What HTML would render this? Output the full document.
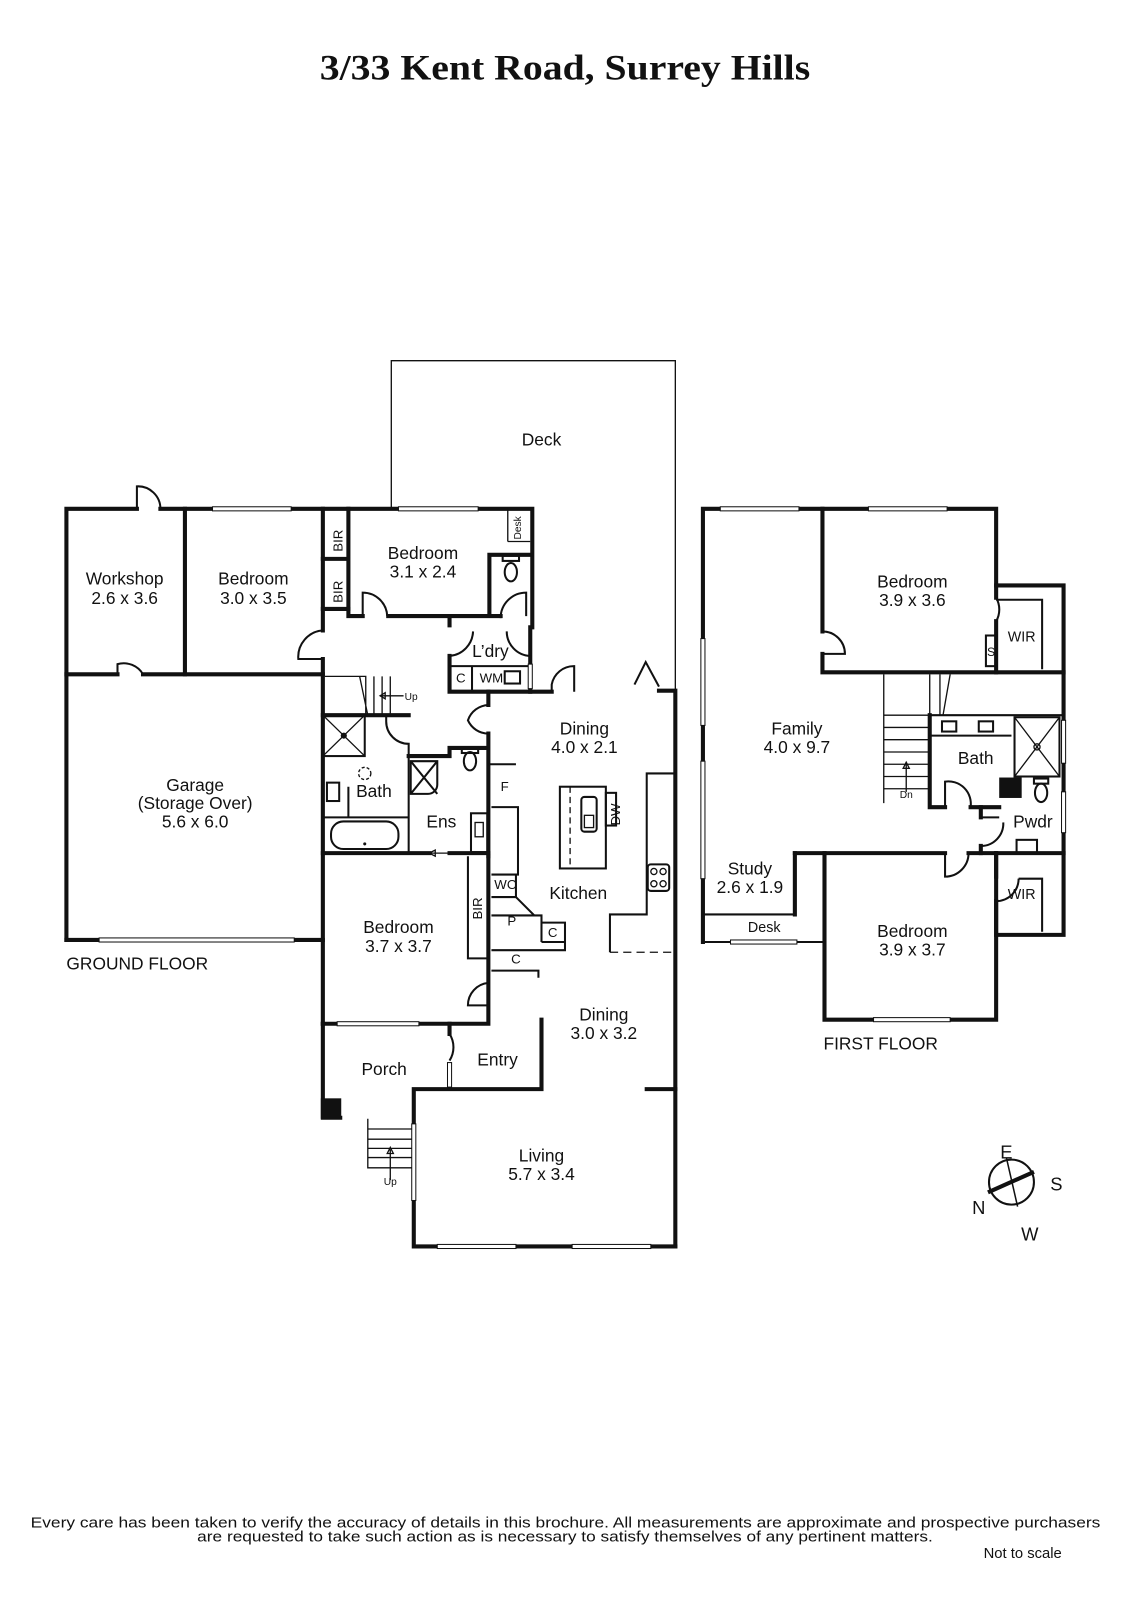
<!DOCTYPE html>
<html><head><meta charset="utf-8"><style>
html,body{margin:0;padding:0;background:#fff}
svg{display:block}
text{font-family:"Liberation Sans",sans-serif;fill:#111}
.w{stroke:#111;stroke-width:4;fill:none;stroke-linecap:square}
.t{stroke:#111;stroke-width:2;fill:none}
.h{stroke:#111;stroke-width:1.3;fill:none}
.win{fill:#fff;stroke:#111;stroke-width:1}
.l{font-size:17px;text-anchor:middle}
.s{font-size:13px;text-anchor:middle}
</style></head><body>
<svg width="1131" height="1600" viewBox="0 0 1107 1566" xmlns="http://www.w3.org/2000/svg">
<text x="313" y="78" textLength="480" lengthAdjust="spacingAndGlyphs" style="font-family:'Liberation Serif',serif;font-weight:bold;font-size:35px">3/33 Kent Road, Surrey Hills</text>

<path class="h" d="M383,497 V353 H661 V676"/>
<text class="l" x="530" y="436">Deck</text>

<path class="w" d="M65,920 V498 H134"/>
<path class="t" d="M134,498 V476 A22,22 0 0 1 157,498"/>
<path class="w" d="M157,498 H521 V614"/>
<path class="w" d="M181,498 V660"/>
<path class="w" d="M65,660 H115 M140,660 H316"/>
<path class="t" d="M115,660 V650 A22,22 0 0 1 140,660"/>
<path class="w" d="M65,920 H316"/>
<rect class="win" x="97" y="918" width="191" height="4"/>
<rect class="win" x="208" y="496" width="77" height="4"/>
<rect class="win" x="390" y="496" width="78" height="4"/>
<path class="w" d="M316,498 V617 M316,645 V1002"/>
<path class="t" d="M316,617 A26,26 0 0 0 292,645 H316"/>
<path class="w" d="M341,498 V596 M316,547 H341 M316,596 H341"/>
<path class="w" d="M341,596 V603 H355 M380,603 H479 V543 H519 M490,603 H479"/>
<path class="t" d="M355,603 V580 A24,24 0 0 1 379,603"/>
<path class="t" d="M515,603 V580 A25,25 0 0 0 490,605"/>
<path class="h" d="M497,530 H519 M497,498 V530"/>
<text x="510" y="528" font-size="10" transform="rotate(-90 510 528)">Desk</text>
<rect class="t" x="492" y="544" width="16" height="5"/>
<ellipse class="t" cx="500" cy="560" rx="6" ry="9"/>
<path class="w" d="M440,604 V612 M440,642 V677 H519 M519,614 V677"/>
<path class="t" d="M440,642 A25,25 0 0 0 463,618 M519,642 A24,24 0 0 1 496,618"/>
<path class="t" d="M440,652 H519 M462,652 V677"/>
<text class="s" x="451" y="668">C</text>
<text class="s" x="481" y="668">WM</text>
<rect class="t" x="494" y="657" width="15" height="12"/>
<rect class="win" x="517" y="650" width="4" height="24"/>
<text class="l" x="480" y="643">L’dry</text>
<path class="w" d="M519,677 H540"/>
<path class="t" d="M540,677 V670 A22,22 0 0 1 562,652 V677"/>
<path class="t" d="M621,670 L632,648 L645,672"/>
<path class="w" d="M645,676 H661 V1220"/>
<path class="w" d="M478,677 V690 M478,718 V838"/>
<path class="t" d="M478,690 A22,22 0 0 0 458,705 A22,22 0 0 0 478,718"/>
<path class="h" d="M318,662 H358 V700 M352,662 L360,700 M366,662 V700 M374,662 V700 M382,662 V700"/>
<path class="h" d="M395,681 H372 M372,681 l5,-3 v6 z"/>
<text x="396" y="685" font-size="10">Up</text>
<path class="w" d="M316,700 H400"/>
<path class="t" d="M378,700 V706 A22,22 0 0 0 400,728 V835"/>
<rect class="t" x="316" y="700" width="41" height="40"/>
<path class="h" d="M316,700 L357,740 M357,700 L316,740"/>
<circle cx="336.5" cy="720" r="3" fill="#111"/>
<path class="t" d="M316,800 H400 M341,770 V800"/>
<rect class="t" x="320" y="766" width="12" height="18"/>
<rect class="t" x="324" y="804" width="66" height="27" rx="12"/>
<circle cx="357" cy="826" r="1.5" fill="#111"/>
<circle class="h" cx="357" cy="757" r="6" stroke-dasharray="3 2"/>
<text class="l" x="366" y="780">Bath</text>
<path class="w" d="M400,740 H440 V732 H475"/>
<rect class="t" x="452" y="732" width="16" height="5"/>
<ellipse class="t" cx="460" cy="745" rx="6" ry="9"/>
<path class="t" d="M402,745 H428 V768 A9,9 0 0 1 419,777 H402 Z M402,745 L428,777 M428,745 L402,777"/>
<rect class="t" x="461" y="796" width="16" height="38"/>
<rect class="h" x="465" y="805" width="8" height="14"/>
<text class="l" x="432" y="810">Ens</text>
<path class="w" d="M316,835 H420 M440,835 H478"/>
<path class="h" d="M420,835 H440 M420,835 l6,-3 v6z"/>
<path class="t" d="M478,748 H505 M481,790 H507 V856 H481 M481,878 H505 V856 M505,878 L523,896 H530 V922 M481,896 H523 M481,930 H553 V903 H530 M530,922 H553 M481,950 H527 V957"/>
<text class="s" x="494" y="774">F</text>
<text class="s" x="495" y="870">WO</text>
<text class="s" x="501" y="906">P</text>
<text class="s" x="541" y="917">C</text>
<text class="s" x="505" y="943">C</text>
<path class="w" d="M478,838 V1002 M316,1002 H478 M478,960 V975"/>
<path class="t" d="M458,838 V938 H478"/>
<text x="472" y="900" font-size="13" transform="rotate(-90 472 900)">BIR</text>
<text x="335" y="540" font-size="13" transform="rotate(-90 335 540)">BIR</text>
<text x="335" y="590" font-size="13" transform="rotate(-90 335 590)">BIR</text>
<path class="t" d="M478,962 A22,22 0 0 0 458,984 H478 V1002"/>
<rect class="win" x="330" y="1000" width="80" height="4"/>
<rect class="t" x="548" y="770" width="45" height="80"/>
<path class="h" d="M558,770 V850" stroke-dasharray="6 4"/>
<rect class="t" x="593" y="776" width="10" height="32"/>
<text x="607" y="808" font-size="13" transform="rotate(-90 607 808)">DW</text>
<rect class="t" x="569" y="780" width="15" height="34" rx="3"/>
<rect class="h" x="572" y="798" width="9" height="12"/>
<path class="t" d="M661,757 H633 V895 H597 V932"/>
<path class="h" d="M597,932 H661" stroke-dasharray="8 5"/>
<rect class="t" x="634" y="846" width="21" height="26" rx="3"/>
<circle class="h" cx="640" cy="853" r="3"/><circle class="h" cx="649" cy="853" r="3"/>
<circle class="h" cx="640" cy="865" r="3"/><circle class="h" cx="649" cy="865" r="3"/>
<text class="l" x="566" y="880">Kitchen</text>
<path class="w" d="M316,1002 V1094 H333 M440,1002 V1012 M440,1062 V1066 M405,1066 H530 V998 M633,1066 H661 M405,1066 V1220 H661"/>
<path class="t" d="M440,1012 A24,24 0 0 1 440,1038"/>
<rect class="win" x="438" y="1040" width="4" height="24"/>
<rect x="314" y="1075" width="20" height="20" fill="#111"/>
<path class="h" d="M360,1095 V1143 H405 M360,1105 H405 M360,1115 H405 M360,1124 H405 M360,1133 H405 M382,1155 V1125 M382,1123 l-3,6 h6z"/>
<text x="382" y="1160" font-size="10" text-anchor="middle">Up</text>
<rect class="win" x="403" y="1100" width="4" height="75"/>
<rect class="win" x="428" y="1218" width="77" height="4"/>
<rect class="win" x="560" y="1218" width="77" height="4"/>

<text class="l" x="122" y="572">Workshop</text><text class="l" x="122" y="591">2.6 x 3.6</text>
<text class="l" x="248" y="572">Bedroom</text><text class="l" x="248" y="591">3.0 x 3.5</text>
<text class="l" x="414" y="547">Bedroom</text><text class="l" x="414" y="565">3.1 x 2.4</text>
<text class="l" x="191" y="774">Garage</text><text class="l" x="191" y="792">(Storage Over)</text><text class="l" x="191" y="810">5.6 x 6.0</text>
<text class="l" x="572" y="719">Dining</text><text class="l" x="572" y="737">4.0 x 2.1</text>
<text class="l" x="390" y="913">Bedroom</text><text class="l" x="390" y="932">3.7 x 3.7</text>
<text class="l" x="591" y="999">Dining</text><text class="l" x="591" y="1017">3.0 x 3.2</text>
<text class="l" x="376" y="1052">Porch</text>
<text class="l" x="487" y="1043">Entry</text>
<text class="l" x="530" y="1137">Living</text><text class="l" x="530" y="1155">5.7 x 3.4</text>
<text x="65" y="949" font-size="17">GROUND FLOOR</text>

<path class="w" d="M688,922 V498 H975 V573 H1041 V915 H975 M975,835 V998 H807 V835"/>
<rect class="win" x="705" y="496" width="77" height="4"/>
<rect class="win" x="850" y="496" width="77" height="4"/>
<rect class="win" x="686" y="625" width="4" height="85"/>
<rect class="win" x="686" y="745" width="4" height="115"/>
<path class="w" d="M805,498 V618 M805,640 V658 H1041"/>
<path class="t" d="M805,618 A22,22 0 0 1 827,640 H805"/>
<path class="w" d="M975,573 V585 M975,608 V658"/>
<path class="t" d="M975,585 A23,23 0 0 1 975,608"/>
<path class="t" d="M975,587 H1020 V655"/>
<rect class="t" x="965" y="622" width="10" height="30"/>
<text x="970" y="642" font-size="12" text-anchor="middle">S</text>
<text class="s" x="1000" y="628" style="font-size:14px">WIR</text>
<path class="h" d="M865,660 V786 M865,700 H910 M865,712 H910 M865,724 H910 M865,736 H910 M865,748 H910 M865,760 H910 M865,772 H910 M910,660 V700 M920,660 V700 M930,660 L923,700 M887,775 V748 M887,746 l-3,6 h6z"/>
<text x="887" y="781" font-size="10" text-anchor="middle">Dn</text>
<path class="t" d="M910,700 H1041"/>
<path class="w" d="M910,700 V790 H925 M950,790 H978"/>
<path class="t" d="M925,790 V765 A22,22 0 0 1 950,790"/>
<path class="t" d="M910,720 H990"/>
<rect class="t" x="922" y="706" width="14" height="10"/>
<rect class="t" x="958" y="706" width="14" height="10"/>
<rect class="t" x="993" y="702" width="44" height="58"/>
<path class="h" d="M993,702 L1037,760 M1037,702 L993,760"/>
<circle class="h" cx="1015" cy="731" r="3"/>
<rect x="978" y="761" width="22" height="20" fill="#111"/>
<rect class="t" x="1012" y="762" width="14" height="5"/>
<ellipse class="t" cx="1019" cy="776" rx="6" ry="9"/>
<rect class="win" x="1039" y="705" width="4" height="42"/>
<rect class="win" x="1039" y="775" width="4" height="40"/>
<text class="l" x="955" y="748">Bath</text>
<path class="w" d="M960,790 V800 M960,828 V835"/>
<path class="t" d="M960,828 A22,22 0 0 0 982,805 M960,800 H978"/>
<rect class="t" x="995" y="822" width="20" height="13"/>
<text class="l" x="1011" y="810">Pwdr</text>
<path class="w" d="M778,835 H925 M948,835 H1041"/>
<path class="t" d="M925,835 V858 A23,23 0 0 0 948,835"/>
<path class="w" d="M778,835 V895"/>
<path class="t" d="M688,895 H778 M688,922 H807"/>
<rect class="win" x="715" y="920" width="65" height="4"/>
<text x="748" y="912" font-size="14" text-anchor="middle">Desk</text>
<path class="w" d="M975,835 V858 M975,882 V915"/>
<path class="t" d="M975,882 A22,22 0 0 0 997,860 M997,860 H1020 V912"/>
<text class="s" x="1000" y="880" style="font-size:14px">WIR</text>
<rect class="win" x="855" y="996" width="75" height="4"/>
<text class="l" x="780" y="719">Family</text><text class="l" x="780" y="737">4.0 x 9.7</text>
<text class="l" x="734" y="856">Study</text><text class="l" x="734" y="874">2.6 x 1.9</text>
<text class="l" x="893" y="575">Bedroom</text><text class="l" x="893" y="593">3.9 x 3.6</text>
<text class="l" x="893" y="917">Bedroom</text><text class="l" x="893" y="935">3.9 x 3.7</text>
<text x="806" y="1027" font-size="17">FIRST FLOOR</text>

<circle cx="990" cy="1157" r="22" fill="none" stroke="#111" stroke-width="2"/>
<path d="M967,1167 L1012,1147" stroke="#111" stroke-width="4"/>
<path d="M985,1133 L996,1181" stroke="#111" stroke-width="1.5"/>
<text x="985" y="1134" font-size="18" text-anchor="middle">E</text>
<text x="1034" y="1165" font-size="18" text-anchor="middle">S</text>
<text x="958" y="1188" font-size="18" text-anchor="middle">N</text>
<text x="1008" y="1214" font-size="18" text-anchor="middle">W</text>

<text x="30" y="1495" font-size="14.5" textLength="1047" lengthAdjust="spacingAndGlyphs">Every care has been taken to verify the accuracy of details in this brochure.  All measurements are approximate and prospective purchasers</text>
<text x="193" y="1509" font-size="14.5" textLength="720" lengthAdjust="spacingAndGlyphs">are requested to take such action as is necessary to satisfy themselves of any pertinent matters.</text>
<text x="1001" y="1525" font-size="14.5" text-anchor="middle">Not to scale</text>
</svg>
</body></html>
